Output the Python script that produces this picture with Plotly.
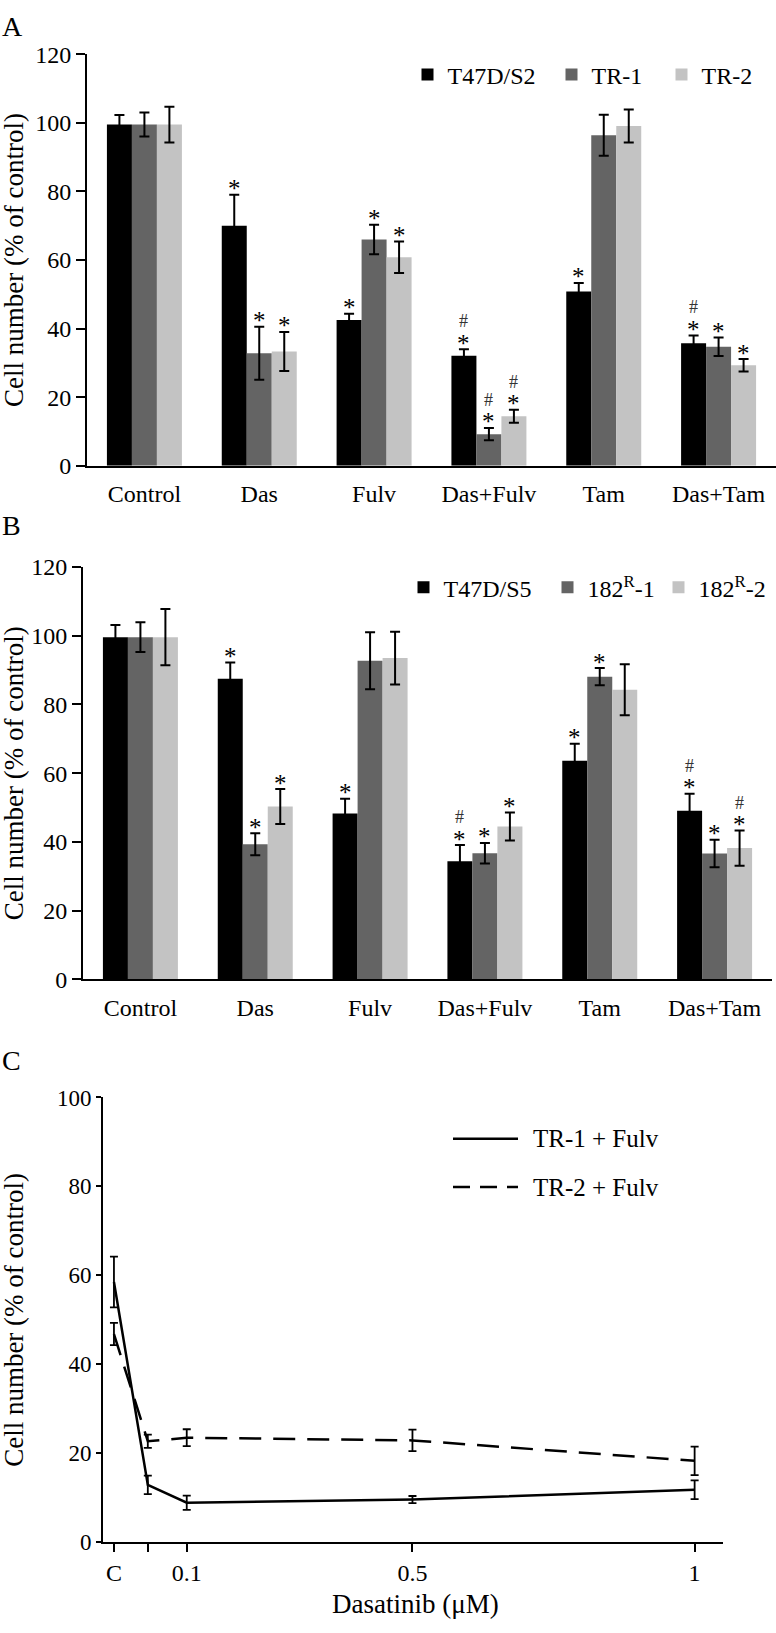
import plotly.graph_objects as go

# ---------------- data ----------------
categories = ["Control", "Das", "Fulv", "Das+Fulv", "Tam", "Das+Tam"]

# Panel A
a_names = ["T47D/S2", "TR-1", "TR-2"]
a_t47d_s2 = [99.5, 70.0, 42.5, 32.1, 50.8, 35.7]
a_t47d_s2_err = [2.8, 9.0, 1.8, 1.9, 2.5, 2.3]
a_tr1 = [99.5, 32.8, 66.0, 9.2, 96.4, 34.7]
a_tr1_err = [3.5, 7.7, 4.3, 1.8, 6.0, 2.7]
a_tr2 = [99.5, 33.3, 60.8, 14.4, 99.1, 29.3]
a_tr2_err = [5.2, 5.7, 4.6, 1.9, 4.8, 1.8]
a_t47d_s2_marks = ["", "*", "*", "#*", "*", "#*"]
a_tr1_marks = ["", "*", "*", "#*", "", "*"]
a_tr2_marks = ["", "*", "*", "#*", "", "*"]

# Panel B
b_names = ["T47D/S5", "182<sup>R</sup>-1", "182<sup>R</sup>-2"]
b_t47d_s5 = [99.6, 87.5, 48.3, 34.4, 63.6, 49.1]
b_t47d_s5_err = [3.5, 4.7, 4.3, 4.7, 5.0, 4.9]
b_182r1 = [99.6, 39.3, 92.7, 36.7, 88.1, 36.6]
b_182r1_err = [4.3, 3.2, 8.3, 3.0, 2.5, 4.0]
b_182r2 = [99.6, 50.3, 93.5, 44.5, 84.3, 38.2]
b_182r2_err = [8.2, 5.1, 7.7, 4.1, 7.4, 5.1]
b_t47d_s5_marks = ["", "*", "*", "#*", "*", "#*"]
b_182r1_marks = ["", "*", "", "*", "*", "*"]
b_182r2_marks = ["", "*", "", "*", "", "#*"]

# Panel C
c_tick_vals = [-0.029, 0.1, 0.5, 1.0]
c_tick_labels = ["C", "0.1", "0.5", "1"]
c_minor_tick_vals = [0.031]
c_x_pos = [-0.029, 0.031, 0.1, 0.5, 1.0]
c_names = ["TR-1 + Fulv", "TR-2 + Fulv"]
c_tr1 = [58.5, 12.9, 8.9, 9.6, 11.8]
c_tr1_err = [5.7, 2.1, 1.6, 0.8, 2.1]
c_tr2 = [46.8, 22.7, 23.5, 22.9, 18.3]
c_tr2_err = [2.5, 1.5, 1.9, 2.4, 3.2]

# ---------------- style ----------------
W, H = 776, 1633
FONT = "Liberation Serif"
BAR_COLORS = ["#000000", "#646464", "#c3c3c3"]
BARGAP = 0.347


def px(x):
    return x / W


def py(y):
    return 1 - y / H


fig = go.Figure()

panels = [
    dict(xa="x", ya="y", names=a_names,
         vals=[a_t47d_s2, a_tr1, a_tr2],
         errs=[a_t47d_s2_err, a_tr1_err, a_tr2_err],
         marks=[a_t47d_s2_marks, a_tr1_marks, a_tr2_marks],
         legends=["legend", "legend2", "legend3"],
         leg_x=[429.5, 573.5, 683.5], leg_y=63),
    dict(xa="x2", ya="y2", names=b_names,
         vals=[b_t47d_s5, b_182r1, b_182r2],
         errs=[b_t47d_s5_err, b_182r1_err, b_182r2_err],
         marks=[b_t47d_s5_marks, b_182r1_marks, b_182r2_marks],
         legends=["legend4", "legend5", "legend6"],
         leg_x=[425.5, 569.5, 680.5], leg_y=584),
]

annotations = []
legend_layouts = {}
bw = (1 - BARGAP) / 3
for p in panels:
    for j in range(3):
        fig.add_trace(go.Bar(
            x=categories, y=p["vals"][j], name=p["names"][j],
            marker=dict(color=BAR_COLORS[j], line=dict(width=0)),
            error_y=dict(type="data", array=p["errs"][j], color="black",
                         thickness=2, width=5),
            xaxis=p["xa"], yaxis=p["ya"], legend=p["legends"][j],
            showlegend=True,
        ))
        legend_layouts[p["legends"][j]] = dict(
            x=px(p["leg_x"][j] - 22), y=py(p["leg_y"]), xanchor="left",
            yanchor="middle", bgcolor="rgba(0,0,0,0)",
            font=dict(family=FONT, size=24, color="black"),
            orientation="v", borderwidth=0,
        )
        for i, m in enumerate(p["marks"][j]):
            if not m:
                continue
            xpos = i + (j - 1) * bw
            ytop = p["vals"][j][i] + p["errs"][j][i]
            if "*" in m:
                annotations.append(dict(
                    x=xpos, y=ytop, xref=p["xa"], yref=p["ya"], text="*",
                    showarrow=False, yanchor="middle", yshift=6,
                    font=dict(family=FONT, size=25, color="black")))
            if "#" in m:
                annotations.append(dict(
                    x=xpos, y=ytop, xref=p["xa"], yref=p["ya"], text="#",
                    showarrow=False, yanchor="middle", yshift=28,
                    font=dict(family=FONT, size=18, color="#333333")))

# Panel C lines
fig.add_trace(go.Scatter(
    x=c_x_pos, y=c_tr1, name=c_names[0], mode="lines",
    line=dict(color="black", width=2.5),
    error_y=dict(type="data", array=c_tr1_err, color="black", thickness=1.8, width=4),
    xaxis="x3", yaxis="y3", showlegend=False))
fig.add_trace(go.Scatter(
    x=c_x_pos, y=c_tr2, name=c_names[1], mode="lines",
    line=dict(color="black", width=2.5, dash="22px,12px"),
    error_y=dict(type="data", array=c_tr2_err, color="black", thickness=1.8, width=4),
    xaxis="x3", yaxis="y3", showlegend=False))

# Panel C legend (drawn)
shapes = [
    dict(type="line", xref="paper", yref="paper", x0=px(453), x1=px(518),
         y0=py(1144), y1=py(1144), line=dict(color="black", width=2.5)),
    dict(type="line", xref="paper", yref="paper", x0=px(453), x1=px(518),
         y0=py(1193), y1=py(1193), line=dict(color="black", width=2.5, dash="17px,10px")),
]
for name, yy in zip(c_names, [1144, 1193]):
    annotations.append(dict(x=px(531), y=py(yy), xref="paper", yref="paper",
                            text=name, showarrow=False, xanchor="left", yanchor="middle",
                            font=dict(family=FONT, size=25, color="black")))

# Panel letters
for letter, yy in zip(["A", "B", "C"], [14, 521, 1064]):
    annotations.append(dict(x=px(0), y=py(yy), xref="paper", yref="paper", text=letter,
                            showarrow=False, xanchor="left", yanchor="middle",
                            font=dict(family=FONT, size=28, color="black")))

# Y axis titles
for yc in [(42 + 460) / 2, (563 + 982) / 2, (1102 + 1554) / 2]:
    annotations.append(dict(x=px(14), y=py(yc), xref="paper", yref="paper",
                            text="Cell number (% of control)", textangle=-90,
                            showarrow=False, xanchor="center", yanchor="middle",
                            font=dict(family=FONT, size=27, color="black")))

# X axis title panel C
annotations.append(dict(x=px(415), y=py(1617), xref="paper", yref="paper",
                        text="Dasatinib (μM)", showarrow=False,
                        xanchor="center", yanchor="middle",
                        font=dict(family=FONT, size=27, color="black")))

tickfont = dict(family=FONT, size=24, color="black")
cat_axis = dict(type="category", range=[-0.5, 5.5], showline=True, linecolor="black",
                linewidth=2, ticks="", tickfont=tickfont, showgrid=False,
                zeroline=False, ticklabelstandoff=6, fixedrange=True)
val_axis = dict(range=[0, 120], dtick=20, showline=True, linecolor="black", linewidth=2,
                ticks="outside", ticklen=9, tickwidth=2, tickcolor="black",
                tickfont=tickfont, showgrid=False, zeroline=False)

fig.update_layout(
    width=W, height=H, margin=dict(l=0, r=0, t=0, b=0),
    paper_bgcolor="white", plot_bgcolor="white",
    barmode="group", bargap=BARGAP, bargroupgap=0,
    font=dict(family=FONT, color="black"),
    xaxis=dict(domain=[px(87), px(776)], anchor="y", **cat_axis),
    yaxis=dict(domain=[py(460), py(42)], anchor="x", **val_axis),
    xaxis2=dict(domain=[px(83), px(772)], anchor="y2", **cat_axis),
    yaxis2=dict(domain=[py(982), py(563)], anchor="x2", **val_axis),
    xaxis3=dict(domain=[px(103), px(723)], anchor="y3", range=[-0.0484, 1.0503],
                tickmode="array", tickvals=c_tick_vals, ticktext=c_tick_labels,
                showline=True, linecolor="black", linewidth=2, ticks="outside",
                ticklen=8, tickwidth=2, tickcolor="black", tickfont=tickfont,
                showgrid=False, zeroline=False,
                minor=dict(tickmode="array", tickvals=c_minor_tick_vals, ticks="outside",
                           ticklen=8, tickwidth=2, tickcolor="black", showgrid=False)),
    yaxis3=dict(domain=[py(1554), py(1102)], anchor="x3", range=[0, 100], dtick=20,
                showline=True, linecolor="black", linewidth=2, ticks="outside",
                ticklen=5, tickwidth=2, tickcolor="black",
                tickfont=dict(family=FONT, size=23, color="black"),
                showgrid=False, zeroline=False),
    annotations=annotations,
    shapes=shapes,
    **legend_layouts,
)

fig.write_html(
    "out.html",
    config={"displayModeBar": False},
    post_script="document.body.style.margin='0';document.body.style.overflow='hidden';",
)
